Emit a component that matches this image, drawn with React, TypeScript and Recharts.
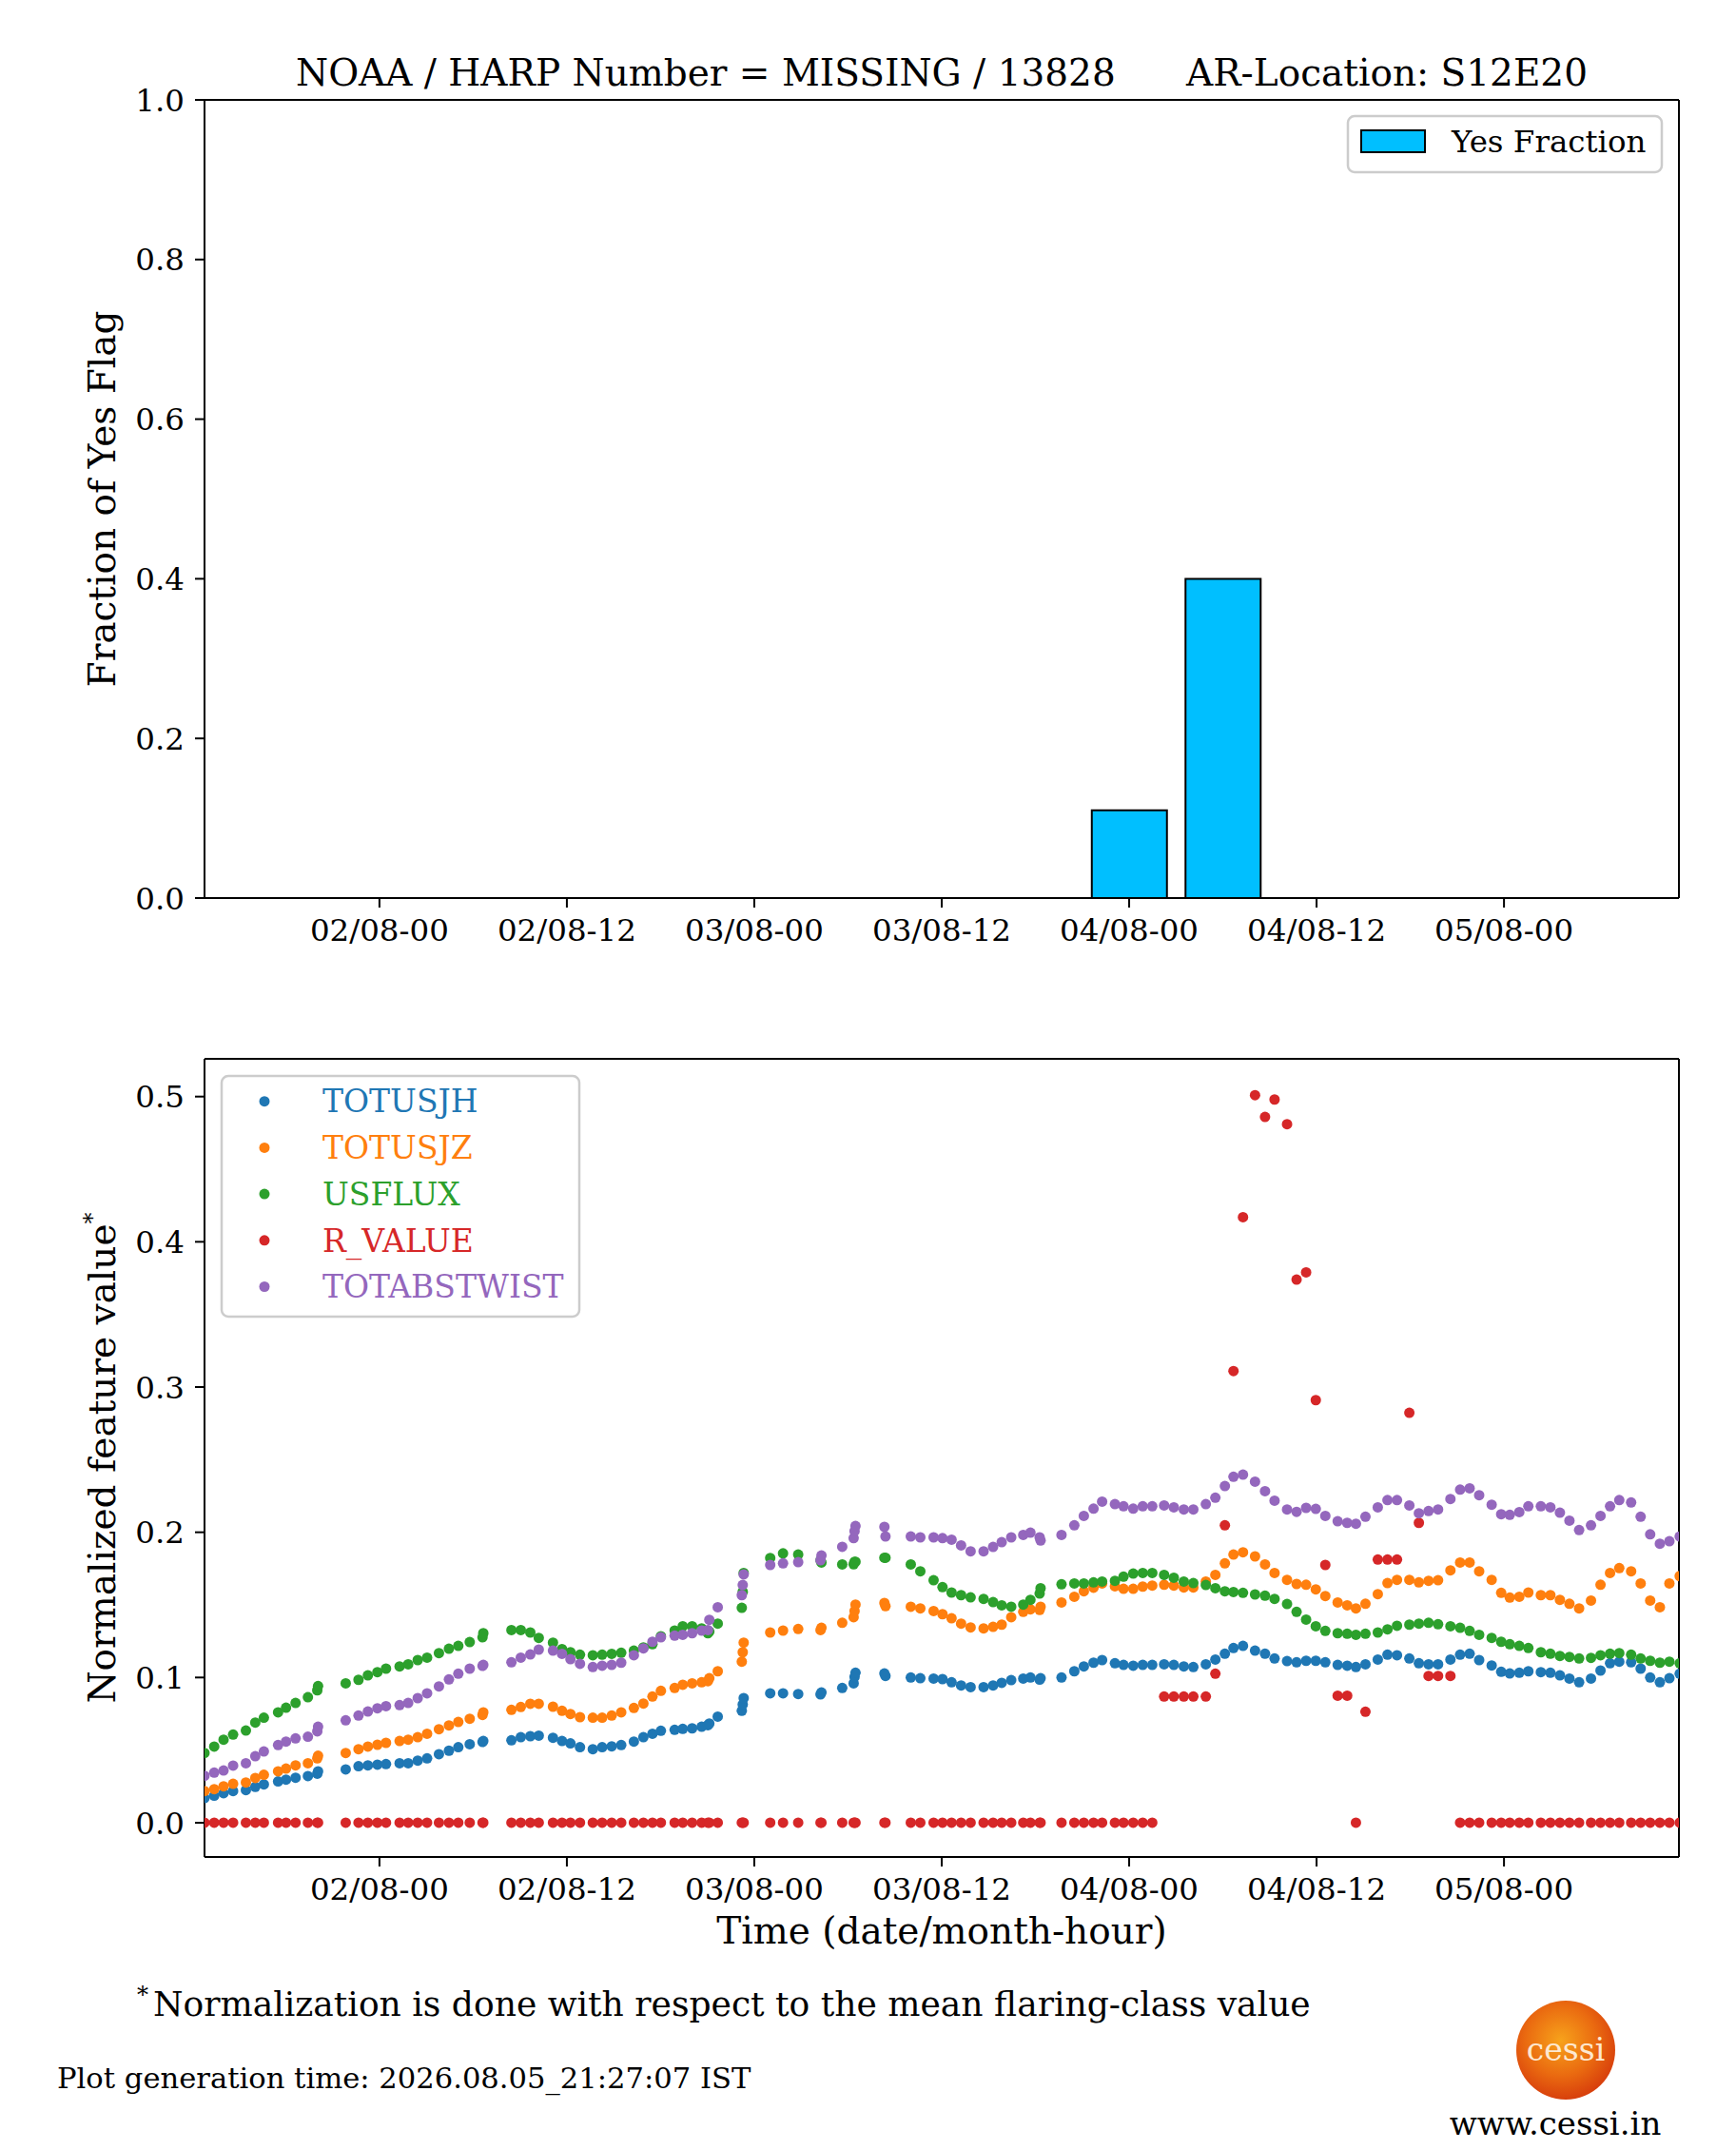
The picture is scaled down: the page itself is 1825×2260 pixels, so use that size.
import { Bar, BarChart, Scatter, ScatterChart, XAxis, YAxis } from "recharts";

// hours counted from 02/08 00:00
const TICK_HOURS = [0, 12, 24, 36, 48, 60, 72];
const TICK_LABELS = ["02/08-00", "02/08-12", "03/08-00", "03/08-12", "04/08-00", "04/08-12", "05/08-00"];
const X_DOMAIN: [number, number] = [-11.2, 83.2];

const BAR_HOURS = [-6, 0, 6, 12, 18, 24, 30, 36, 42, 48, 54, 60, 66, 72, 78];
const YES_FRACTION = [0, 0, 0, 0, 0, 0, 0, 0, 0, 0.11, 0.4, 0, 0, 0, 0];

const TIME = [
  -11.2, -10.58, -9.98, -9.37, -8.55, -7.95, -7.4, -6.49, -5.98, -5.37, -4.58, -3.98, -3.93,
  -2.16, -1.34, -0.74, -0.13, 0.42, 1.29, 1.84, 2.45, 3.05, 3.81, 4.45, 5.05, 5.78, 6.6, 6.65,
  8.45, 9.05, 9.66, 10.2, 11.11, 11.69, 12.23, 12.84, 13.66, 14.26, 14.87, 15.48, 16.29, 16.9, 17.48,
  18.02, 18.9, 19.42, 20.02, 20.63, 21.03, 21.12, 21.66,
  23.2, 23.26, 23.32, 25.02, 25.84, 26.81, 28.24, 28.3, 29.63, 30.36, 30.42, 30.48, 32.33, 32.4,
  34.02, 34.63, 35.48, 36.05, 36.63, 37.24, 37.85, 38.68, 39.29, 39.84, 40.45, 41.22, 41.68, 42.27, 42.33,
  43.67, 44.49, 45.1, 45.72, 46.27, 47.09, 47.64, 48.26, 48.87, 49.48, 50.24, 50.86, 51.5, 52.11, 52.91,
  53.52, 54.13, 54.68, 55.29, 56.06, 56.7, 57.31, 58.11, 58.72, 59.33, 59.95, 60.56, 61.35, 61.96, 62.52,
  63.13, 63.92, 64.54, 65.15, 65.94, 66.55, 67.17, 67.78, 68.57, 69.19, 69.8, 70.41, 71.21, 71.82, 72.37,
  72.98, 73.56, 74.36, 74.97, 75.58, 76.19, 76.81, 77.57, 78.18, 78.79, 79.38, 80.14, 80.75, 81.36, 81.98,
  82.59, 83.25,
];

const TOTUSJH = [
  0.017, 0.0186, 0.0203, 0.0218, 0.0225, 0.0247, 0.0264, 0.0284, 0.0297, 0.031, 0.0321, 0.0338, 0.0354,
  0.0367, 0.0389, 0.0395, 0.04, 0.0404, 0.041, 0.041, 0.0428, 0.0443, 0.0472, 0.0496, 0.052, 0.0541, 0.0556, 0.0563,
  0.0568, 0.0589, 0.0596, 0.06, 0.0585, 0.0563, 0.0546, 0.052, 0.0506, 0.052, 0.0526, 0.0535, 0.0559, 0.0589, 0.0613,
  0.0633, 0.064, 0.0646, 0.065, 0.0661, 0.0672, 0.0683, 0.0731,
  0.0771, 0.0814, 0.0858, 0.0891, 0.0891, 0.0886, 0.0884, 0.0897, 0.0928, 0.096, 0.1004, 0.1033, 0.1028, 0.1011,
  0.1, 0.0995, 0.0993, 0.0989, 0.0967, 0.0945, 0.0934, 0.0934, 0.0945, 0.0963, 0.0982, 0.0993, 0.1, 0.0985, 0.0995,
  0.1, 0.1043, 0.1076, 0.1102, 0.112, 0.1098, 0.1087, 0.1081, 0.1087, 0.1087, 0.1091, 0.1087, 0.1076, 0.1072, 0.1091,
  0.1124, 0.1164, 0.1203, 0.1218, 0.1185, 0.1164, 0.1131, 0.1113, 0.1105, 0.1115, 0.1115, 0.1105, 0.1087, 0.1081, 0.1072,
  0.1091, 0.1124, 0.1157, 0.1153, 0.1131, 0.1098, 0.1091, 0.1091, 0.1124, 0.1157, 0.1164, 0.112, 0.1083, 0.1039, 0.1028,
  0.1033, 0.1043, 0.1037, 0.1033, 0.1015, 0.0993, 0.0967, 0.0993, 0.1048, 0.1098, 0.1109, 0.1105, 0.1061, 0.1, 0.0967,
  0.0995, 0.1026,
];

const TOTUSJZ = [
  0.0218, 0.0231, 0.0251, 0.0268, 0.0277, 0.0308, 0.033, 0.0354, 0.0373, 0.0395, 0.041, 0.0443, 0.0461,
  0.048, 0.0506, 0.0524, 0.0537, 0.055, 0.0563, 0.0572, 0.0589, 0.0613, 0.0644, 0.067, 0.0694, 0.0716, 0.0742, 0.076,
  0.0777, 0.0797, 0.0819, 0.0819, 0.0799, 0.0771, 0.0749, 0.0727, 0.0723, 0.0723, 0.0738, 0.076, 0.079, 0.0821, 0.0869,
  0.0908, 0.0928, 0.095, 0.096, 0.0967, 0.0975, 0.0995, 0.1043,
  0.1109, 0.1174, 0.124, 0.131, 0.1323, 0.1334, 0.1327, 0.1342, 0.1377, 0.1415, 0.1458, 0.1502, 0.1513, 0.1491,
  0.1487, 0.1476, 0.1458, 0.1436, 0.1408, 0.1371, 0.1345, 0.1338, 0.1349, 0.1364, 0.1415, 0.1452, 0.1469, 0.1465, 0.1487,
  0.1517, 0.1556, 0.1594, 0.1618, 0.1648, 0.1628, 0.1611, 0.1611, 0.1626, 0.1633, 0.1639, 0.1633, 0.162, 0.162, 0.1661,
  0.1707, 0.1786, 0.1847, 0.1862, 0.1834, 0.1779, 0.172, 0.1672, 0.1644, 0.1639, 0.1607, 0.1561, 0.1517, 0.1497, 0.1476,
  0.1508, 0.1574, 0.165, 0.1672, 0.1672, 0.1655, 0.1666, 0.167, 0.1738, 0.1792, 0.1792, 0.1731, 0.1672, 0.1583, 0.155,
  0.1556, 0.1585, 0.1567, 0.1567, 0.1535, 0.1508, 0.1476, 0.153, 0.1639, 0.172, 0.1753, 0.1731, 0.1648, 0.153, 0.1484,
  0.1648, 0.1698,
];

const USFLUX = [
  0.048, 0.0524, 0.0572, 0.0607, 0.0635, 0.069, 0.0723, 0.076, 0.0792, 0.0825, 0.0864, 0.0912, 0.0941,
  0.096, 0.0984, 0.1015, 0.1037, 0.1061, 0.1076, 0.1091, 0.112, 0.1137, 0.1168, 0.1198, 0.1218, 0.1244, 0.1277, 0.1305,
  0.1327, 0.1327, 0.131, 0.1273, 0.124, 0.1196, 0.1174, 0.1157, 0.1153, 0.1157, 0.1163, 0.117, 0.1185, 0.1207, 0.1229,
  0.1284, 0.1323, 0.1353, 0.1353, 0.1338, 0.1305, 0.1316, 0.1371,
  0.148, 0.159, 0.172, 0.1823, 0.1855, 0.1847, 0.1807, 0.1792, 0.1779, 0.178, 0.1797, 0.1797, 0.1825, 0.1825,
  0.1779, 0.1731, 0.167, 0.1622, 0.1585, 0.1567, 0.1552, 0.1541, 0.1519, 0.1497, 0.1487, 0.1502, 0.1535, 0.1578, 0.1615,
  0.1642, 0.1648, 0.1648, 0.1655, 0.1661, 0.1666, 0.1694, 0.1716, 0.172, 0.172, 0.1707, 0.1687, 0.1661, 0.165, 0.1637,
  0.1615, 0.1594, 0.1589, 0.1583, 0.1572, 0.1563, 0.1541, 0.1506, 0.1452, 0.1399, 0.1353, 0.1321, 0.1305, 0.1301, 0.1294,
  0.1301, 0.131, 0.1332, 0.1356, 0.1364, 0.1371, 0.1377, 0.1367, 0.1353, 0.1342, 0.1321, 0.1294, 0.1273, 0.1246, 0.1229,
  0.1218, 0.1203, 0.1174, 0.1164, 0.1148, 0.1142, 0.1131, 0.1135, 0.1153, 0.1164, 0.1168, 0.1157, 0.1131, 0.1115, 0.1102,
  0.1109, 0.1098,
];

const R_VALUE = [
  0, 0, 0, 0, 0, 0, 0, 0, 0, 0, 0, 0, 0,
  0, 0, 0, 0, 0, 0, 0, 0, 0, 0, 0, 0, 0, 0, 0,
  0, 0, 0, 0, 0, 0, 0, 0, 0, 0, 0, 0, 0, 0, 0,
  0, 0, 0, 0, 0, 0, 0, 0,
  0, 0, 0, 0, 0, 0, 0, 0, 0, 0, 0, 0, 0, 0,
  0, 0, 0, 0, 0, 0, 0, 0, 0, 0, 0, 0, 0, 0, 0,
  0, 0, 0, 0, 0, 0, 0, 0, 0, 0, 0.0869, 0.0869, 0.0869, 0.0869, 0.0869,
  0.1026, 0.2048, 0.311, 0.417, 0.501, 0.486, 0.498, 0.481, 0.374, 0.379, 0.291, 0.1775, 0.0875, 0.0875, 0,
  0.0764, 0.1812, 0.1812, 0.1812, 0.2823, 0.2065, 0.1011, 0.1011, 0.1011, 0, 0, 0, 0, 0, 0,
  0, 0, 0, 0, 0, 0, 0, 0, 0, 0, 0, 0, 0, 0, 0,
  0, 0,
];

const TOTABSTWIST = [
  0.0323, 0.0345, 0.036, 0.0393, 0.041, 0.0458, 0.0491, 0.0535, 0.0559, 0.0581, 0.0592, 0.0629, 0.0661,
  0.0705, 0.0738, 0.0766, 0.0788, 0.0803, 0.081, 0.0825, 0.0858, 0.0891, 0.0939, 0.0987, 0.1026, 0.1061, 0.108, 0.1087,
  0.1105, 0.1137, 0.1159, 0.1192, 0.1185, 0.1163, 0.1126, 0.1094, 0.1072, 0.1081, 0.1087, 0.1102, 0.1153, 0.1201, 0.1246,
  0.1277, 0.1288, 0.1294, 0.1305, 0.1323, 0.1327, 0.1397, 0.1484,
  0.1567, 0.1637, 0.171, 0.1775, 0.1786, 0.1794, 0.1807, 0.184, 0.19, 0.196, 0.2008, 0.2043, 0.2037, 0.1971,
  0.1971, 0.1965, 0.1965, 0.196, 0.1949, 0.191, 0.1869, 0.1869, 0.1899, 0.1932, 0.1965, 0.1982, 0.1997, 0.1965, 0.1943,
  0.1982, 0.2048, 0.2113, 0.2163, 0.2211, 0.2194, 0.2179, 0.2163, 0.2179, 0.2179, 0.2185, 0.2172, 0.2157, 0.2157, 0.2194,
  0.2238, 0.2318, 0.2382, 0.2397, 0.2349, 0.2283, 0.2218, 0.2157, 0.2141, 0.2168, 0.2161, 0.2113, 0.2076, 0.2065, 0.2059,
  0.2107, 0.2172, 0.2222, 0.2222, 0.2185, 0.2131, 0.2146, 0.2157, 0.2229, 0.2294, 0.2303, 0.2255, 0.219, 0.2124, 0.212,
  0.2139, 0.2179, 0.2179, 0.2172, 0.2135, 0.208, 0.2015, 0.2048, 0.2113, 0.2179, 0.2222, 0.2205, 0.2107, 0.1986, 0.1921,
  0.1938, 0.1971,
];

// drawing order follows matplotlib: later series sit on top
const SERIES = [
  { name: "TOTUSJH", values: TOTUSJH, color: "#1f77b4" },
  { name: "TOTUSJZ", values: TOTUSJZ, color: "#ff7f0e" },
  { name: "USFLUX", values: USFLUX, color: "#2ca02c" },
  { name: "R_VALUE", values: R_VALUE, color: "#d62728" },
  { name: "TOTABSTWIST", values: TOTABSTWIST, color: "#9467bd" },
];

const FONT = "DejaVu Serif";
const TICK = { fontSize: 32.5, fill: "#000", fontFamily: FONT };
const LINE = { stroke: "#000", strokeWidth: 2 };
const CHART_W = 1825;
const CHART_H = 1010;
// the 1px top/right axes only draw the frame of the box
const MARGIN = { top: 104, right: 59, bottom: 6, left: 0 };
const DOT_R = 5.5;

const hourLabel = (h: number) => TICK_LABELS[TICK_HOURS.indexOf(h)] ?? "";

const barRows = BAR_HOURS.map((t, i) => ({ t, frac: YES_FRACTION[i] }));

function TopChart() {
  return (
    <BarChart width={CHART_W} height={CHART_H} data={barRows} margin={MARGIN}>
      <XAxis
        type="number"
        dataKey="t"
        domain={X_DOMAIN}
        allowDataOverflow
        ticks={TICK_HOURS}
        tickFormatter={hourLabel}
        height={60}
        tick={TICK}
        tickSize={10}
        tickMargin={12}
        axisLine={LINE}
        tickLine={LINE}
        interval={0}
      />
      <XAxis xAxisId="top" orientation="top" type="number" domain={X_DOMAIN} allowDataOverflow height={1}
        tick={false} tickLine={false} axisLine={LINE} />
      <YAxis
        type="number"
        domain={[0, 1]}
        allowDataOverflow
        ticks={[0, 0.2, 0.4, 0.6, 0.8, 1]}
        tickFormatter={(v: number) => v.toFixed(1)}
        width={215}
        tick={TICK}
        tickSize={10}
        tickMargin={11}
        axisLine={LINE}
        tickLine={LINE}
        interval={0}
      />
      <YAxis yAxisId="right" orientation="right" type="number" domain={[0, 1]} allowDataOverflow width={1}
        tick={false} tickLine={false} axisLine={LINE} />
      <Bar dataKey="frac" fill="#00BFFF" stroke="#000" strokeWidth={2} barSize={79} isAnimationActive={false} />
    </BarChart>
  );
}

function BottomChart() {
  return (
    <ScatterChart width={CHART_W} height={CHART_H} margin={MARGIN}>
      <XAxis
        type="number"
        dataKey="t"
        domain={X_DOMAIN}
        allowDataOverflow
        ticks={TICK_HOURS}
        tickFormatter={hourLabel}
        height={60}
        tick={TICK}
        tickSize={10}
        tickMargin={12}
        axisLine={LINE}
        tickLine={LINE}
        interval={0}
      />
      <XAxis xAxisId="top" orientation="top" type="number" domain={X_DOMAIN} allowDataOverflow height={1}
        tick={false} tickLine={false} axisLine={LINE} />
      <YAxis
        type="number"
        dataKey="v"
        domain={[-0.0236, 0.526]}
        allowDataOverflow
        ticks={[0, 0.1, 0.2, 0.3, 0.4, 0.5]}
        tickFormatter={(v: number) => v.toFixed(1)}
        width={215}
        tick={TICK}
        tickSize={10}
        tickMargin={11}
        axisLine={LINE}
        tickLine={LINE}
        interval={0}
      />
      <YAxis yAxisId="right" orientation="right" type="number" domain={[0, 1]} allowDataOverflow width={1}
        tick={false} tickLine={false} axisLine={LINE} />
      {SERIES.map((s) => (
        <Scatter
          key={s.name}
          name={s.name}
          data={TIME.map((t, i) => ({ t, v: s.values[i] }))}
          isAnimationActive={false}
          shape={(p: any) => <circle cx={p.cx} cy={p.cy} r={DOT_R} fill={s.color} />}
        />
      ))}
    </ScatterChart>
  );
}

function Overlay() {
  return (
    <svg
      width={CHART_W}
      height={2260}
      style={{ position: "absolute", left: 0, top: 0, pointerEvents: "none" }}
      fontFamily={FONT}
    >
      <defs>
        <radialGradient id="sun" cx="45%" cy="40%" r="60%">
          <stop offset="0%" stopColor="#f7a21b" />
          <stop offset="60%" stopColor="#ea6a10" />
          <stop offset="100%" stopColor="#d8400c" />
        </radialGradient>
      </defs>
      <text x={990} y={90} fontSize={39} textAnchor="middle" style={{ whiteSpace: "pre" }}>
        {"NOAA / HARP Number = MISSING / 13828      AR-Location: S12E20"}
      </text>
      <text transform="translate(121,524.5) rotate(-90)" textAnchor="middle" fontSize={39}>
        Fraction of Yes Flag
      </text>

      {/* upper legend */}
      <rect x={1417} y={122} width={330} height={59} rx={7} fill="#fff" fillOpacity={0.8} stroke="#cccccc" strokeWidth={2.5} />
      <rect x={1431} y={137} width={67} height={23} fill="#00BFFF" stroke="#000" strokeWidth={2} />
      <text x={1526} y={159.5} fontSize={32.5}>Yes Fraction</text>

      {/* lower legend */}
      <rect x={233} y={1131} width={376} height={253} rx={7} fill="#fff" fillOpacity={0.8} stroke="#cccccc" strokeWidth={2.5} />
      {SERIES.map((s, i) => (
        <g key={s.name}>
          <circle cx={278} cy={1157.7 + 48.7 * i} r={DOT_R} fill={s.color} />
          <text x={339} y={1169.4 + 48.7 * i} fontSize={33} fill={s.color}>{s.name}</text>
        </g>
      ))}

      <text transform="translate(121,1532.5) rotate(-90)" textAnchor="middle" fontSize={39}>
        Normalized feature value
        <tspan fontSize={24} dy={-16}>*</tspan>
      </text>
      <text x={990} y={2043} fontSize={39} textAnchor="middle">Time (date/month-hour)</text>

      <text x={144} y={2105} fontSize={24}>*</text>
      <text x={161} y={2119} fontSize={36.1}>Normalization is done with respect to the mean flaring-class value</text>
      <text x={60} y={2195} fontSize={30.6}>Plot generation time: 2026.08.05_21:27:07 IST</text>

      <circle cx={1646} cy={2155} r={52} fill="url(#sun)" />
      <text x={1646} y={2166} fontSize={33} textAnchor="middle" fill="#fde8d0">cessi</text>
      <text x={1635} y={2244} fontSize={34} textAnchor="middle">www.cessi.in</text>
    </svg>
  );
}

export default function App() {
  return (
    <div style={{ position: "absolute", left: 0, top: 0, width: CHART_W, height: 2260, background: "#fff", fontFamily: FONT }}>
      <div style={{ position: "absolute", left: 0, top: 0 }}>
        <TopChart />
      </div>
      <div style={{ position: "absolute", left: 0, top: 1008 }}>
        <BottomChart />
      </div>
      <Overlay />
    </div>
  );
}
